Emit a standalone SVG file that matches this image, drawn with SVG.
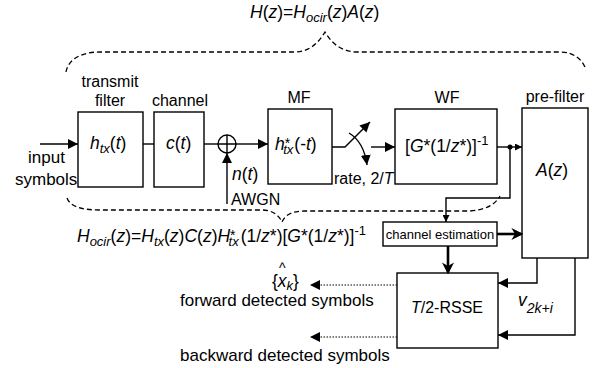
<svg xmlns="http://www.w3.org/2000/svg" width="592" height="368" viewBox="0 0 592 368">
<style>
text{font-family:"Liberation Sans",Arial,sans-serif;fill:#000}
.lbl{font-size:16px}
.big{font-size:17px}
.eq{font-size:17.5px}
.small{font-size:13px}
.it{font-style:italic}
.box{fill:#fff;stroke:#000;stroke-width:1.4}
.ln{fill:none;stroke:#000;stroke-width:1.4}
.thick{fill:none;stroke:#000;stroke-width:2.6}
.dot{fill:none;stroke:#000;stroke-width:1;stroke-dasharray:1.5,1.5}
.dash{fill:none;stroke:#000;stroke-width:1.3;stroke-dasharray:5,3}
</style>
<defs>
<marker id="ah" viewBox="0 0 10 10" refX="10" refY="5" markerWidth="10" markerHeight="10" markerUnits="userSpaceOnUse" orient="auto"><path d="M0,0 L10,5 L0,10 z" fill="#000"/></marker>
<marker id="ahs" viewBox="0 0 10 10" refX="10" refY="5" markerWidth="7" markerHeight="7" markerUnits="userSpaceOnUse" orient="auto"><path d="M0,0 L10,5 L0,10 z" fill="#000"/></marker>
<marker id="ahb" viewBox="0 0 10 10" refX="8" refY="5" markerWidth="12" markerHeight="12" markerUnits="userSpaceOnUse" orient="auto"><path d="M0,0 L10,5 L0,10 L3,5 z" fill="#000"/></marker>
</defs>

<!-- equations / braces -->
<text class="eq" x="250" y="18"><tspan class="it">H</tspan>(<tspan class="it">z</tspan>)=<tspan class="it">H</tspan><tspan class="it" font-size="13" dy="4">ocir</tspan><tspan dy="-4">(</tspan><tspan class="it">z</tspan>)<tspan class="it">A</tspan>(<tspan class="it">z</tspan>)</text>
<path class="dash" d="M66,72 C68,60 80,52 100,52 L295,52 C308,52 318,44 325,32 C332,44 342,52 358,52 L560,52 C574,52 583,60 586,70"/>
<path class="dash" d="M67,198 C70,206 80,210 100,210 L262,210 C272,210 279,215 282,222 C285,215 292,211 305,211 L470,211 C485,210 495,205 500,196"/>
<text class="eq" x="77" y="242"><tspan class="it">H</tspan><tspan class="it" font-size="13" dy="4">ocir</tspan><tspan dy="-4">(</tspan><tspan class="it">z</tspan>)=<tspan class="it">H</tspan><tspan class="it" font-size="13" dy="4">tx</tspan><tspan dy="-4">(</tspan><tspan class="it">z</tspan>)<tspan class="it">C</tspan>(<tspan class="it">z</tspan>)<tspan class="it">H</tspan><tspan font-size="14" dy="-2">*</tspan><tspan class="it" font-size="13" dx="-7" dy="6">tx</tspan><tspan dy="-4" dx="2">(1/</tspan><tspan class="it">z</tspan>*)[<tspan class="it">G</tspan>*(1/<tspan class="it">z</tspan>*)]<tspan font-size="13" dy="-7">-1</tspan></text>

<!-- nodes -->
<g id="input"><text class="big" x="28" y="163">input</text><text class="big" x="15" y="185">symbols</text></g>
<g id="txfilter"><text class="lbl" x="110" y="87" text-anchor="middle">transmit</text><text class="lbl" x="110" y="106" text-anchor="middle">filter</text>
<rect class="box" x="78" y="112" width="65" height="75"/>
<text class="eq" x="90" y="149"><tspan class="it">h</tspan><tspan class="it" font-size="13" dy="4">tx</tspan><tspan dy="-4">(</tspan><tspan class="it">t</tspan>)</text></g>
<g id="channel"><text class="lbl" x="180" y="106" text-anchor="middle">channel</text>
<rect class="box" x="154" y="112" width="50" height="75"/>
<text class="eq" x="166" y="149"><tspan class="it">c</tspan>(<tspan class="it">t</tspan>)</text></g>
<g id="sum"><circle class="ln" cx="227" cy="144" r="9"/><path class="ln" d="M218,144 H236 M227,135 V153"/>
<text class="eq" x="232" y="180"><tspan class="it">n</tspan>(<tspan class="it">t</tspan>)</text><text class="lbl" x="231" y="205">AWGN</text></g>
<g id="mf"><text class="lbl" x="299" y="103" text-anchor="middle">MF</text>
<rect class="box" x="268" y="109" width="64" height="75"/>
<text class="eq" x="275" y="150"><tspan class="it">h</tspan><tspan font-size="14" dy="-2">*</tspan><tspan class="it" font-size="13" dx="-7" dy="6">tx</tspan><tspan dy="-4" dx="1">(-</tspan><tspan class="it">t</tspan>)</text></g>
<g id="switch"><text class="lbl" x="334" y="184" font-size="15">rate, 2/<tspan class="it">T</tspan></text></g>
<g id="wf"><text class="lbl" x="447" y="103" text-anchor="middle">WF</text>
<rect class="box" x="395" y="109" width="102" height="75"/>
<text class="eq" x="405" y="152">[<tspan class="it">G</tspan>*(1/<tspan class="it">z</tspan>*)]<tspan font-size="13" dy="-7">-1</tspan></text></g>
<g id="prefilter"><text class="lbl" x="555" y="102" text-anchor="middle">pre-filter</text>
<rect class="box" x="522" y="108" width="66" height="150"/>
<text class="eq" x="536" y="176"><tspan class="it">A</tspan>(<tspan class="it">z</tspan>)</text></g>
<g id="chest"><rect class="box" x="383" y="222" width="114" height="24"/>
<text class="small" x="440" y="239" text-anchor="middle">channel estimation</text></g>
<g id="rsse"><rect class="box" x="397" y="273" width="101" height="75"/>
<text class="lbl" x="447" y="313" text-anchor="middle"><tspan class="it">T</tspan>/2-RSSE</text></g>
<g id="outputs">
<text class="eq" x="272" y="287">{<tspan class="it">x</tspan><tspan class="it" font-size="13" dy="3">k</tspan><tspan dy="-3">}</tspan></text>
<text x="279" y="273" font-size="14">^</text>
<text class="big" x="180" y="306">forward detected symbols</text>
<text class="big" x="180" y="361">backward detected symbols</text>
<text class="eq" x="518" y="306"><tspan class="it">v</tspan><tspan class="it" font-size="14" dy="7">2k+i</tspan></text>
</g>

<!-- connectors -->
<g id="connectors">
<path class="ln" d="M40,144 H78" marker-end="url(#ah)"/>
<path class="ln" d="M143,144 H154"/>
<path class="ln" d="M204,144 H218"/>
<path class="ln" d="M236,144 H268" marker-end="url(#ah)"/>
<path class="ln" d="M227,204 V153" marker-end="url(#ah)"/>
<path class="ln" d="M332,147 H345 L370,122" marker-end="url(#ah)"/>
<path class="ln" d="M349,133 Q364,142 367,165" marker-end="url(#ah)"/>
<path class="ln" d="M371,147 H395" marker-end="url(#ah)"/>
<path class="ln" d="M497,147 H522" marker-end="url(#ahs)"/>
<circle cx="510" cy="147" r="2.5" fill="#000"/>
<path class="ln" d="M510,147 V198 H446 V222" marker-end="url(#ahs)"/>
<path class="thick" d="M497,234 H521" marker-end="url(#ahb)"/>
<path class="thick" d="M448,246 V272" marker-end="url(#ahb)"/>
<path class="ln" d="M537,258 V283 H498" marker-end="url(#ah)"/>
<path class="ln" d="M575,258 V335 H498" marker-end="url(#ah)"/>
<path class="dot" d="M397,285 H310" marker-end="url(#ah)"/>
<path class="dot" d="M397,337 H310" marker-end="url(#ah)"/>
</g>
</svg>
